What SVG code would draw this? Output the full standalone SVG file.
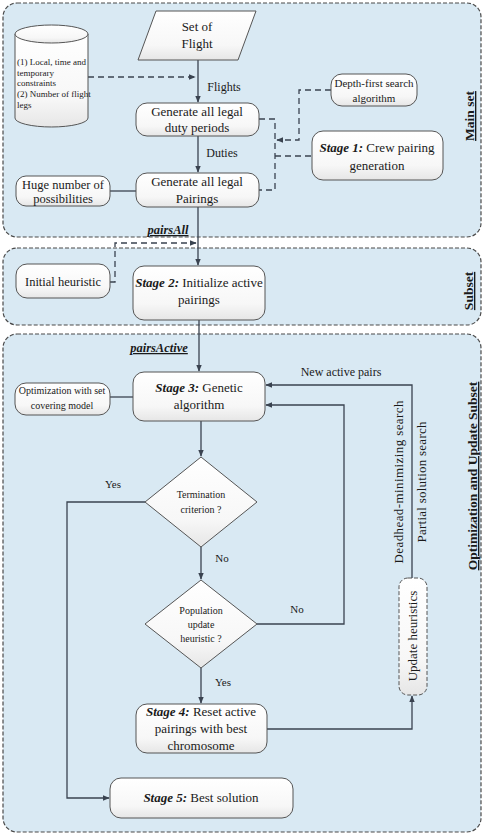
<svg xmlns="http://www.w3.org/2000/svg" width="484" height="836" viewBox="0 0 484 836">
<defs>
<linearGradient id="bx" x1="0" y1="0" x2="0" y2="1">
<stop offset="0" stop-color="#ffffff"/>
<stop offset="0.7" stop-color="#f7f7f7"/>
<stop offset="1" stop-color="#e6e6e6"/>
</linearGradient>
<marker id="ar" viewBox="0 0 10 10" refX="9" refY="5" markerWidth="7" markerHeight="7" orient="auto" markerUnits="userSpaceOnUse">
<path d="M0,1 L10,5 L0,9 Z" fill="#3a4350"/>
</marker>
</defs>
<style>
.panel{fill:#d9e9f3;stroke:#4a4a4a;stroke-width:1.2;stroke-dasharray:4 2}
.box{fill:url(#bx);stroke:#555;stroke-width:1}
.dbox{fill:url(#bx);stroke:#555;stroke-width:1;stroke-dasharray:4 2}
.ln{fill:none;stroke:#3a4350;stroke-width:1.3}
.dl{fill:none;stroke:#3a4350;stroke-width:1.3;stroke-dasharray:6 4}
text{font-family:"Liberation Serif","Times New Roman",serif;fill:#1a1a1a}
.t13{font-size:13px;text-anchor:middle}
.t12{font-size:12px;text-anchor:middle}
.t10{font-size:10px;text-anchor:middle}
.t9{font-size:9px}
.bi{font-weight:bold;font-style:italic}
.lbl{font-weight:bold;font-size:13.5px;text-anchor:middle;text-decoration:underline}
.pl{font-weight:bold;font-style:italic;font-size:12.5px;text-anchor:middle;text-decoration:underline}
</style>

<g id="panel-main"><rect class="panel" x="3" y="3" width="478" height="234" rx="14"/>
<text class="lbl" transform="translate(474,116) rotate(-90)">Main set</text></g>
<g id="panel-subset"><rect class="panel" x="3" y="248" width="478" height="77" rx="14"/>
<text class="lbl" transform="translate(473,291) rotate(-90)">Subset</text></g>
<g id="panel-opt"><rect class="panel" x="3" y="334" width="478" height="498" rx="14"/>
<text class="lbl" transform="translate(477,476) rotate(-90)">Optimization and Update Subset</text></g>

<g id="connectors">
<path class="ln" d="M198,60 V102" marker-end="url(#ar)"/>
<path class="ln" d="M198,136 V172" marker-end="url(#ar)"/>
<path class="ln" d="M198,207 V265" marker-end="url(#ar)"/>
<path class="ln" d="M199,320 V371" marker-end="url(#ar)"/>
<path class="ln" d="M201,421 V456" marker-end="url(#ar)"/>
<path class="ln" d="M201,547 V579" marker-end="url(#ar)"/>
<path class="ln" d="M201,668 V703" marker-end="url(#ar)"/>
<path class="ln" d="M110,191 H136"/>
<path class="ln" d="M110,397 H133"/>
<path class="dl" d="M88,77 H195" marker-end="url(#ar)"/>
<path class="dl" d="M259,119 H275 V190 H259"/>
<path class="dl" d="M275,156 H312"/>
<path class="dl" d="M331,90 H299 V140 H277" marker-end="url(#ar)"/>
<path class="dl" d="M110,282 H115 V243 H196" marker-end="url(#ar)"/>
<path class="ln" d="M145,502 H67 V798 H109" marker-end="url(#ar)"/>
<path class="ln" d="M257,624 H344 V405 H266" marker-end="url(#ar)"/>
<path class="ln" d="M412,578 V385 H266" marker-end="url(#ar)"/>
<path class="ln" d="M267,729 H412 V696" marker-end="url(#ar)"/>
<text class="t12" x="224" y="91">Flights</text>
<text class="t12" x="222" y="157">Duties</text>
<text class="pl" x="168" y="234">pairsAll</text>
<text class="pl" x="159" y="352">pairsActive</text>
<text class="t12" x="341" y="376">New active pairs</text>
<text class="t12" x="113" y="488" style="font-size:11px">Yes</text>
<text class="t12" x="222" y="562" style="font-size:11px">No</text>
<text class="t12" x="297" y="613" style="font-size:11px">No</text>
<text class="t12" x="223" y="686" style="font-size:11px">Yes</text>
<text class="t13" transform="translate(403,482) rotate(-90)" textLength="163" lengthAdjust="spacing">Deadhead-minimizing search</text>
<text class="t13" transform="translate(426,482) rotate(-90)" textLength="121" lengthAdjust="spacing">Partial solution search</text>
</g>

<g id="set-of-flight">
<path class="box" d="M156,11 H256 L238,60 H138 Z"/>
<text class="t13" x="197" y="31">Set of</text>
<text class="t13" x="197" y="48">Flight</text>
</g>

<g id="constraints-db">
<path class="box" d="M15,34 V118 A36.5,9 0 0 0 88,118 V34"/>
<ellipse class="box" cx="51.5" cy="34" rx="36.5" ry="9"/>
<text class="t9" x="17" y="65">(1) Local, time and</text>
<text class="t9" x="17" y="76">temporary</text>
<text class="t9" x="17" y="86">constraints</text>
<text class="t9" x="17" y="97">(2) Number of flight</text>
<text class="t9" x="17" y="108">legs</text>
</g>

<g id="duty-periods">
<rect class="box" x="136" y="103" width="123" height="33" rx="11"/>
<text class="t13" x="197" y="116">Generate all legal</text>
<text class="t13" x="197" y="132">duty periods</text>
</g>

<g id="pairings">
<rect class="box" x="136" y="173" width="123" height="34" rx="11"/>
<text class="t13" x="197" y="186">Generate all legal</text>
<text class="t13" x="197" y="203">Pairings</text>
</g>

<g id="huge-number">
<rect class="box" x="16" y="176" width="94" height="30" rx="10"/>
<text class="t13" x="63" y="189" style="font-size:12.5px">Huge number of</text>
<text class="t13" x="63" y="203" style="font-size:12.5px">possibilities</text>
</g>

<g id="dfs">
<rect class="box" x="331" y="74" width="86" height="32" rx="11"/>
<text class="t12" x="374" y="87" style="font-size:11px">Depth-first search</text>
<text class="t12" x="374" y="102" style="font-size:11px">algorithm</text>
</g>

<g id="stage1">
<rect class="box" x="312" y="131" width="131" height="49" rx="11"/>
<text class="t13" x="377" y="152"><tspan class="bi">Stage 1:</tspan> Crew pairing</text>
<text class="t13" x="377" y="170">generation</text>
</g>

<g id="initial-heuristic">
<rect class="box" x="16" y="264" width="94" height="34" rx="11"/>
<text class="t13" x="63" y="286" style="font-size:12.5px">Initial heuristic</text>
</g>

<g id="stage2">
<rect class="box" x="133" y="266" width="132" height="54" rx="11"/>
<text class="t13" x="199" y="287"><tspan class="bi">Stage 2:</tspan> Initialize active</text>
<text class="t13" x="199" y="304">pairings</text>
</g>

<g id="set-covering">
<rect class="box" x="15" y="383" width="95" height="32" rx="11"/>
<text class="t10" x="62" y="394">Optimization with set</text>
<text class="t10" x="62" y="409">covering model</text>
</g>

<g id="stage3">
<rect class="box" x="133" y="372" width="132" height="49" rx="11"/>
<text class="t13" x="199" y="392"><tspan class="bi">Stage 3:</tspan> Genetic</text>
<text class="t13" x="199" y="409">algorithm</text>
</g>

<g id="termination">
<path class="box" d="M201,457 L257,502 L201,547 L145,502 Z"/>
<text class="t10" x="201" y="498">Termination</text>
<text class="t10" x="201" y="513">criterion ?</text>
</g>

<g id="population">
<path class="box" d="M201,580 L257,624 L201,668 L145,624 Z"/>
<text class="t10" x="201" y="614">Population</text>
<text class="t10" x="201" y="628">update</text>
<text class="t10" x="201" y="642">heuristic ?</text>
</g>

<g id="update-heuristics">
<rect class="dbox" x="399" y="578" width="28" height="117" rx="9"/>
<text class="t13" transform="translate(417,636) rotate(-90)">Update heuristics</text>
</g>

<g id="stage4">
<rect class="box" x="136" y="704" width="131" height="49" rx="11"/>
<text class="t13" x="201" y="716"><tspan class="bi">Stage 4:</tspan> Reset active</text>
<text class="t13" x="201" y="733">pairings with best</text>
<text class="t13" x="201" y="750">chromosome</text>
</g>

<g id="stage5">
<rect class="box" x="110" y="778" width="183" height="40" rx="11"/>
<text class="t13" x="201" y="802"><tspan class="bi">Stage 5:</tspan> Best solution</text>
</g>
</svg>
